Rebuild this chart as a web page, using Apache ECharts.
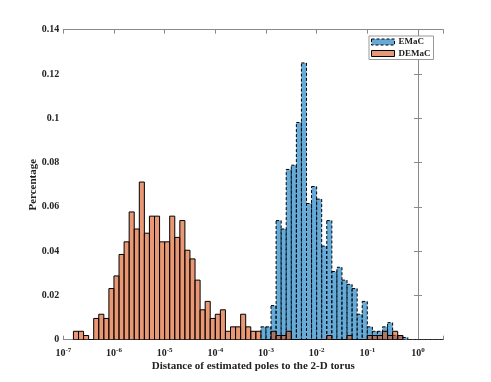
<!DOCTYPE html>
<html>
<head>
<meta charset="utf-8">
<script src="https://cdn.jsdelivr.net/npm/echarts@6/dist/echarts.min.js"></script>
<style>html,body{margin:0;padding:0;background:#fff}#c{width:491px;height:382px}</style>
</head>
<body>
<div id="c"></div>
<script>
// Bin left edges are log10 exponents; each bin is 0.1 decade wide
var binWidth = 0.1;
var emacBins = [-3.1,-3.0,-2.9,-2.8,-2.7,-2.6,-2.5,-2.4,-2.3,-2.2,-2.1,-2.0,-1.9,-1.8,-1.7,-1.6,-1.5,-1.4,-1.3,-1.2,-1.1,-1.0,-0.9,-0.8,-0.7,-0.6,-0.5,-0.4,-0.3,-0.2,-0.1,0.0,0.1,0.2,0.3,0.4];
var emacValues = [0.0058,0.0058,0.0154,0.0538,0.0500,0.0769,0.0788,0.0981,0.1250,0.0615,0.0692,0.0635,0.0423,0.0538,0.0308,0.0327,0.0269,0.0250,0.0231,0.0115,0.0173,0.0058,0.0038,0.0038,0.0058,0.0077,0.0019,0.0019,0.0010,0,0,0,0,0,0,0];
var demacBins = [-6.8,-6.7,-6.6,-6.5,-6.4,-6.3,-6.2,-6.1,-6.0,-5.9,-5.8,-5.7,-5.6,-5.5,-5.4,-5.3,-5.2,-5.1,-5.0,-4.9,-4.8,-4.7,-4.6,-4.5,-4.4,-4.3,-4.2,-4.1,-4.0,-3.9,-3.8,-3.7,-3.6,-3.5,-3.4,-3.3,-3.2,-3.1,-3.0,-2.9,-2.8,-2.7,-2.6,-2.5,-2.4,-2.3,-2.2,-2.1,-2.0,-1.9,-1.8,-1.7,-1.6,-1.5,-1.4,-1.3,-1.2,-1.1,-1.0,-0.9,-0.8,-0.7,-0.6,-0.5,-0.4];
var demacValues = [0.0038,0.0038,0.0019,0,0.0096,0.0115,0.0096,0.0231,0.0288,0.0385,0.0442,0.0577,0.0500,0.0712,0.0481,0.0558,0.0558,0.0442,0.0442,0.0558,0.0462,0.0538,0.0404,0.0365,0.0269,0.0135,0.0173,0.0096,0.0115,0.0135,0.0038,0.0058,0.0058,0.0115,0.0058,0.0038,0.0038,0,0,0.0038,0.0019,0.0019,0.0038,0,0,0,0,0,0,0,0.0019,0,0,0,0.0019,0,0,0,0.0019,0.0019,0.0019,0.0038,0.0019,0.0038,0.0019];
var seriesNames = ['EMaC', 'DEMaC'];
var xTickExponents = [-7,-6,-5,-4,-3,-2,-1,0];
var xLabel = 'Distance of estimated poles to the 2-D torus';
var yLabel = 'Percentage';

var FONT = '"Liberation Serif", "Times New Roman", serif';
var AX = '#8a8a8a';
var TXT = '#222';

function pairs(bins, vals){ return bins.map(function(b,i){ return [b, vals[i]]; }); }

function makeRender(fill, dash){
  return function(params, api){
    var x0 = api.value(0), h = api.value(1);
    var p0 = api.coord([x0, h]);
    var p1 = api.coord([x0 + binWidth, 0]);
    return {
      type: 'rect',
      shape: {x: p0[0], y: p0[1], width: p1[0]-p0[0], height: p1[1]-p0[1]},
      style: {fill: fill, stroke: '#000', lineWidth: 1, lineDash: dash}
    };
  };
}

var chart = echarts.init(document.getElementById('c'), null, {renderer: 'canvas'});
var BLUE = 'rgba(0,114,189,0.6)';
var ORANGE = 'rgba(217,83,25,0.6)';
var option = {
  animation: false,
  backgroundColor: '#fff',
  grid: {left: 63.3, right: 47.7, top: 29.7, bottom: 42.3, containLabel: false},
  legend: {
    left: 369, top: 36, orient: 'vertical',
    backgroundColor: '#fff', borderColor: '#999', borderWidth: 1, borderRadius: 0,
    padding: [1, 3, 1, 2], itemGap: 1.5, itemWidth: 23, itemHeight: 6,
    textStyle: {fontFamily: FONT, fontWeight: 'bold', fontSize: 9, color: TXT, lineHeight: 10, padding: [0,0,0,-1]},
    data: [
      {name: seriesNames[0], icon: 'rect', itemStyle: {color: BLUE, borderColor: '#000', borderWidth: 1, borderType: [3,2]}},
      {name: seriesNames[1], icon: 'rect', itemStyle: {color: ORANGE, borderColor: '#000', borderWidth: 1, borderType: 'solid'}}
    ]
  },
  xAxis: [{
    type: 'value', min: -7, max: 0.5, interval: 1, position: 'bottom',
    name: xLabel, nameLocation: 'middle', nameGap: 21, nameMoveOverlap: false,
    nameTextStyle: {fontFamily: FONT, fontWeight: 'bold', fontSize: 11, color: TXT},
    axisLine: {show: true, onZero: false, lineStyle: {color: AX, width: 1}},
    axisTick: {show: true, inside: true, length: 4, lineStyle: {color: AX}},
    splitLine: {show: false},
    axisLabel: {
      margin: 7, color: TXT,
      formatter: function(v){
        var r = Math.round(v);
        if (Math.abs(v - r) > 1e-6 || xTickExponents.indexOf(r) < 0) return '';
        return '{b|10}{s|' + r + '}';
      },
      rich: {
        b: {fontFamily: FONT, fontWeight: 'bold', fontSize: 10, color: TXT, lineHeight: 12, verticalAlign: 'bottom'},
        s: {fontFamily: FONT, fontWeight: 'bold', fontSize: 7, color: TXT, lineHeight: 7, verticalAlign: 'top'}
      }
    }
  }, {
    type: 'value', min: -7, max: 0.5, interval: 1, position: 'top',
    axisLine: {show: true, onZero: false, lineStyle: {color: AX, width: 1}},
    axisTick: {show: true, inside: true, length: 4, lineStyle: {color: AX}},
    axisLabel: {show: false}, splitLine: {show: false}
  }],
  yAxis: [{
    type: 'value', min: 0, max: 0.14, interval: 0.02, position: 'left',
    name: yLabel, nameLocation: 'middle', nameGap: 24.5, nameRotate: 90, nameMoveOverlap: false,
    nameTextStyle: {fontFamily: FONT, fontWeight: 'bold', fontSize: 11, color: TXT},
    axisLine: {show: true, lineStyle: {color: AX, width: 1}},
    axisTick: {show: true, inside: true, length: 4, lineStyle: {color: AX}},
    splitLine: {show: false},
    axisLabel: {margin: 4, fontFamily: FONT, fontWeight: 'bold', fontSize: 10, color: TXT}
  }, {
    type: 'value', min: 0, max: 0.14, interval: 0.02, position: 'right',
    axisLine: {show: true, lineStyle: {color: AX, width: 1}},
    axisTick: {show: true, inside: true, length: 4, lineStyle: {color: AX}},
    axisLabel: {show: false}, splitLine: {show: false}
  }],
  series: [
    {name: seriesNames[0], type: 'custom', xAxisIndex: 0, yAxisIndex: 0, z: 2, clip: true,
     itemStyle: {color: BLUE}, encode: {x: 0, y: 1},
     renderItem: makeRender(BLUE, [3,2]), data: pairs(emacBins, emacValues)},
    {name: seriesNames[1], type: 'custom', xAxisIndex: 0, yAxisIndex: 0, z: 3, clip: true,
     itemStyle: {color: ORANGE}, encode: {x: 0, y: 1},
     renderItem: makeRender(ORANGE, null), data: pairs(demacBins, demacValues)}
  ]
};
chart.setOption(option);
</script>
</body>
</html>
